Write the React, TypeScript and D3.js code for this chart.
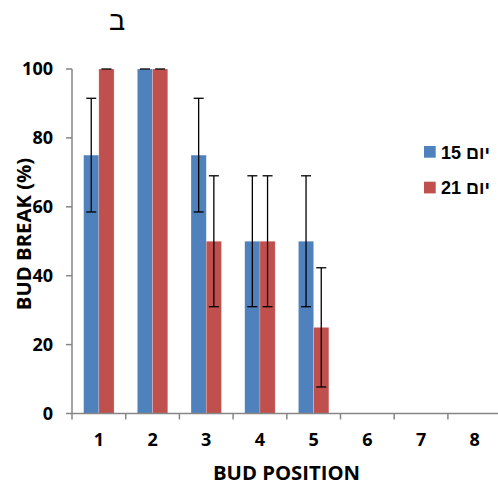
import React from 'react';
import * as d3 from 'd3';

const categories = ['1', '2', '3', '4', '5', '6', '7', '8'];
const seriesNames = ['יום 15', 'יום 21'];
const day15 = [75, 100, 75, 50, 50, 0, 0, 0];
const day21 = [100, 100, 50, 50, 25, 0, 0, 0];
const err15: (number | null)[] = [16.5, 0, 16.5, 19, 19, null, null, null];
const err21: (number | null)[] = [0, 0, 19, 19, 17.3, null, null, null];
const yTicks = [0, 20, 40, 60, 80, 100];
const colors = ['#4F81BD', '#C0504D'];

export default function App() {
  const width = 498;
  const height = 486;
  const margin = { top: 69, left: 72, bottom: 413.5, right: 501.6 };

  const x = d3.scaleBand().domain(categories).range([margin.left, margin.right]).padding(0);
  const inner = d3.scaleBand().domain(seriesNames).range([0, x.bandwidth()]).paddingInner(0).paddingOuter(0.766);
  const y = d3.scaleLinear().domain([0, 100]).range([margin.bottom, margin.top]);

  const series = [
    { name: seriesNames[0], values: day15, errors: err15, color: colors[0] },
    { name: seriesNames[1], values: day21, errors: err21, color: colors[1] },
  ];

  const axisColor = '#868686';
  const font = "'Open Sans', 'Liberation Sans', sans-serif";

  return (
    <svg width={width} height={height} style={{ position: 'absolute', left: 0, top: 0, background: '#fff' }}>
      <text x={117} y={30} textAnchor="middle" fontSize={27} fontFamily="'Liberation Sans', 'DejaVu Sans', sans-serif" fill="#000">ב</text>

      {series.map(s => (
        <g key={s.name}>
          {categories.map((c, i) => {
            const bx = (x(c) ?? 0) + (inner(s.name) ?? 0);
            const bw = inner.bandwidth();
            const v = s.values[i];
            return (
              <rect key={c} x={bx} y={y(v)} width={bw} height={y(0) - y(v)} fill={s.color} stroke="#fff" strokeOpacity={0.35} strokeWidth={0.6} />
            );
          })}
        </g>
      ))}

      {series.map(s => (
        <g key={s.name + '-err'}>
          {categories.map((c, i) => {
            const e = s.errors[i];
            if (e === null) return null;
            const cx = (x(c) ?? 0) + (inner(s.name) ?? 0) + inner.bandwidth() / 2;
            const v = s.values[i];
            const top = y(Math.min(100, v + e));
            const bot = y(v - e);
            return (
              <g key={c} stroke="#000" strokeWidth={1.3}>
                {e > 0 && <line x1={cx} x2={cx} y1={top} y2={bot} />}
                <line x1={cx - 5} x2={cx + 5} y1={y(v + e)} y2={y(v + e)} />
                {e > 0 && <line x1={cx - 5} x2={cx + 5} y1={bot} y2={bot} />}
              </g>
            );
          })}
        </g>
      ))}

      {/* y axis */}
      <line x1={margin.left} x2={margin.left} y1={margin.top} y2={margin.bottom} stroke={axisColor} strokeWidth={1.5} />
      {yTicks.map(t => (
        <g key={t}>
          <line x1={margin.left - 6} x2={margin.left} y1={y(t)} y2={y(t)} stroke={axisColor} strokeWidth={1.5} />
          <text x={53} y={y(t)} dy="0.36em" textAnchor="end" fontSize={18} fontWeight="bold" fontFamily={font} fill="#000">{t}</text>
        </g>
      ))}

      {/* x axis */}
      <line x1={margin.left} x2={margin.right} y1={margin.bottom} y2={margin.bottom} stroke={axisColor} strokeWidth={1.5} />
      {categories.map(c => (
        <g key={c}>
          <line x1={x(c)} x2={x(c)} y1={margin.bottom} y2={margin.bottom + 6} stroke={axisColor} strokeWidth={1.5} />
          <text x={(x(c) ?? 0) + x.bandwidth() / 2} y={446} textAnchor="middle" fontSize={18} fontWeight="bold" fontFamily={font} fill="#000">{c}</text>
        </g>
      ))}

      <text x={286.5} y={480} textAnchor="middle" fontSize={20.3} fontWeight="bold" fontFamily={font} fill="#000">BUD POSITION</text>
      <text transform="translate(31,234) rotate(-90)" textAnchor="middle" fontSize={20.3} fontWeight="bold" fontFamily={font} fill="#000">BUD BREAK (%)</text>

      {/* legend */}
      {series.map((s, i) => (
        <g key={s.name + '-leg'} transform={`translate(424, ${146 + i * 35.7})`}>
          <rect x={0} y={0} width={11.7} height={11.7} fill={s.color} />
          <text x={17} y={12.5} fontSize={18} fontWeight="bold" fontFamily="'Liberation Sans', Arial, sans-serif" fill="#000">{s.name}</text>
        </g>
      ))}
    </svg>
  );
}
